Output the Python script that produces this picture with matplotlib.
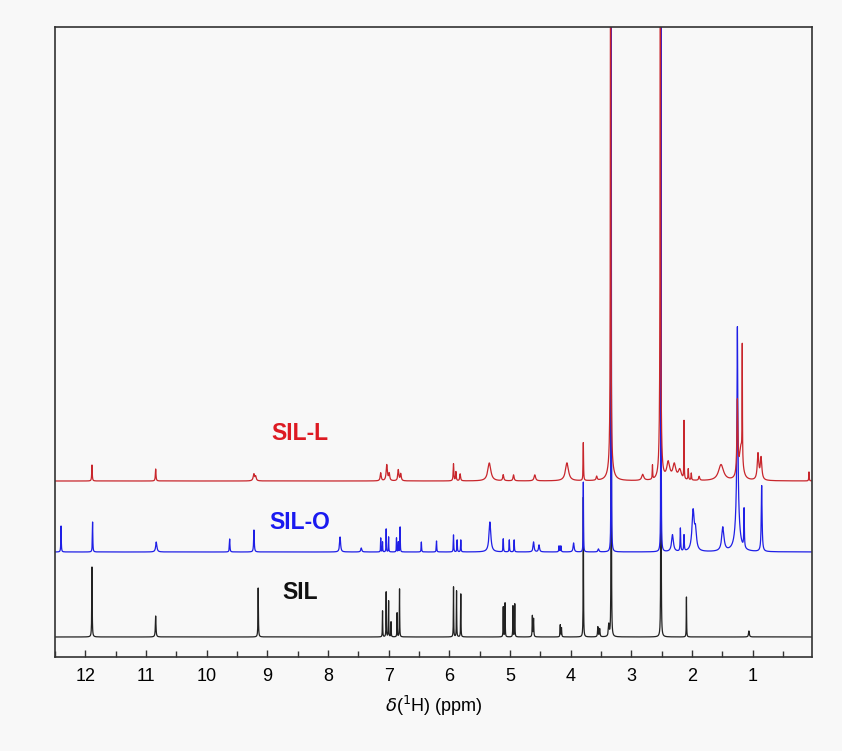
import numpy as np
import matplotlib.pyplot as plt
from matplotlib.ticker import MultipleLocator

plt.rcParams['font.family'] = ['Liberation Sans', 'DejaVu Sans']

# peak lists: (shift in ppm, height, half width in ppm)
sil_peaks = [
    (11.89, 70, 0.004), (10.84, 21, 0.006), (9.15, 49, 0.004),
    (7.10, 26, 0.003), (7.04, 45, 0.003), (7.00, 36, 0.003), (6.96, 15, 0.003),
    (6.86, 24, 0.003), (6.82, 48, 0.003),
    (5.93, 50, 0.003), (5.88, 46, 0.003), (5.81, 43, 0.003),
    (5.11, 30, 0.003), (5.08, 34, 0.003), (4.95, 31, 0.003), (4.92, 33, 0.003),
    (4.63, 21, 0.004), (4.61, 18, 0.004),
    (4.17, 12, 0.004), (4.15, 9, 0.004),
    (3.79, 140, 0.003),
    (3.55, 10, 0.006), (3.52, 8, 0.006),
    (3.37, 12, 0.008),
    (3.33, 800, 0.002),
    (2.51, 800, 0.002),
    (2.09, 40, 0.003),
    (1.06, 6, 0.008),
]

sil_o_peaks = [
    (12.40, 26, 0.004), (11.88, 30, 0.004), (10.83, 10, 0.012),
    (9.62, 13, 0.005), (9.22, 22, 0.006), (7.80, 15, 0.010), (7.45, 4, 0.010),
    (7.13, 14, 0.003), (7.10, 10, 0.003), (7.04, 23, 0.003), (7.00, 15, 0.003),
    (6.87, 14, 0.003), (6.84, 10, 0.003), (6.81, 25, 0.003),
    (6.46, 10, 0.004), (6.21, 11, 0.004),
    (5.93, 17, 0.004), (5.87, 12, 0.004), (5.81, 12, 0.004),
    (5.33, 30, 0.018),
    (5.11, 13, 0.004), (5.01, 12, 0.004), (4.93, 12, 0.004),
    (4.61, 10, 0.010), (4.52, 7, 0.010),
    (4.19, 6, 0.005), (4.16, 6, 0.005),
    (3.95, 9, 0.010),
    (3.79, 70, 0.003),
    (3.54, 3, 0.010),
    (3.33, 800, 0.002),
    (2.51, 800, 0.002),
    (2.32, 17, 0.018),
    (2.19, 23, 0.005), (2.13, 16, 0.005),
    (1.98, 40, 0.022), (1.94, 18, 0.018),
    (1.49, 24, 0.022),
    (1.25, 180, 0.008), (1.25, 45, 0.035),
    (1.14, 39, 0.005),
    (0.85, 66, 0.008),
]

sil_l_peaks = [
    (11.89, 16, 0.005), (10.84, 12, 0.006), (9.22, 7, 0.014), (9.19, 4, 0.010),
    (7.13, 8, 0.010), (7.03, 16, 0.012), (6.99, 7, 0.010), (6.84, 11, 0.010), (6.80, 7, 0.010),
    (5.93, 17, 0.006), (5.89, 9, 0.006), (5.82, 7, 0.008),
    (5.34, 18, 0.030),
    (5.11, 6, 0.010), (4.94, 6, 0.010),
    (4.59, 6, 0.015),
    (4.06, 18, 0.030),
    (3.79, 38, 0.004),
    (3.57, 4, 0.010),
    (3.34, 800, 0.004), (3.34, 20, 0.040),
    (2.81, 6, 0.020), (2.65, 14, 0.004),
    (2.52, 800, 0.004), (2.52, 40, 0.020),
    (2.39, 17, 0.030), (2.29, 15, 0.030), (2.20, 10, 0.030),
    (2.13, 58, 0.003),
    (2.06, 11, 0.005), (2.01, 7, 0.005),
    (1.88, 4, 0.010),
    (1.52, 16, 0.050),
    (1.25, 75, 0.010),
    (1.19, 32, 0.030),
    (1.17, 114, 0.003),
    (0.91, 26, 0.015), (0.86, 22, 0.015),
    (0.07, 9, 0.004),
]

labels = ['SIL', 'SIL-O', 'SIL-L']
colors = ['#222222', '#1f1fe6', '#c8262c']
label_colors = ['#111111', '#1a1af0', '#dd1a22']
offsets = [20, 105, 176]
label_pos = [(8.46, 64), (8.46, 134), (8.46, 223)]


def spectrum(ppm, peaks):
    y = np.zeros_like(ppm)
    for center, height, hw in peaks:
        y += height * hw**2 / ((ppm - center)**2 + hw**2)
    return y


ppm = np.linspace(0, 12.6, 40000)

fig = plt.figure(figsize=(8.42, 7.51), dpi=100, facecolor='#f8f8f8')
ax = fig.add_axes([0.0653, 0.1252, 0.8991, 0.8388])
ax.set_facecolor('#f8f8f8')

for peaks, off, c in zip([sil_peaks, sil_o_peaks, sil_l_peaks], offsets, colors):
    ax.plot(ppm, spectrum(ppm, peaks) + off, color=c, lw=0.9)

for name, (lx, ly), c in zip(labels, label_pos, label_colors):
    ax.text(lx, ly, name, color=c, fontsize=16.5, fontweight='bold',
            ha='center', va='center')

ax.set_xlim(12.5, 0.02)
ax.set_ylim(0, 630)
ax.set_yticks([])
ax.xaxis.set_minor_locator(MultipleLocator(0.5))
ax.set_xticks(range(1, 13))
ax.tick_params(axis='x', which='major', direction='in', length=5, width=1,
               labelsize=13, pad=8, color='#333333')
ax.tick_params(axis='x', which='minor', direction='in', length=4, width=1,
               color='#333333')
for s in ax.spines.values():
    s.set_color('#333333')
    s.set_linewidth(1.2)

ax.set_xlabel(r'$\delta$($^{1}$H) (ppm)', fontsize=13, labelpad=6)

fig.savefig('out.png', dpi=100, facecolor=fig.get_facecolor())
